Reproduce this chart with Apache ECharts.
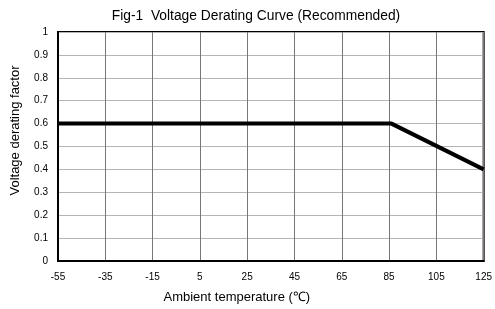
<!DOCTYPE html>
<html>
<head>
<meta charset="utf-8">
<script src="https://cdn.jsdelivr.net/npm/echarts@6/dist/echarts.min.js"></script>
<style>
  html, body { margin: 0; padding: 0; background: #fff; }
  #chart { width: 495px; height: 309px; }
</style>
</head>
<body>
<div id="chart"></div>
<script>
// derating curve points (temperature in C, factor)
var temps = [-55, 86, 125];
var factors = [0.6, 0.6, 0.4];
var titleText = 'Fig-1  Voltage Derating Curve (Recommended)';
var xName = 'Ambient temperature (\u2103)';
var yName = 'Voltage derating factor';

var font = '"Liberation Sans", Arial, sans-serif';
var chart = echarts.init(document.getElementById('chart'));

chart.setOption({
    animation: false,
    title: {
        text: titleText,
        left: 251,
        top: 4,
        textAlign: 'center',
        textStyle: { fontFamily: font, fontSize: 13.8, fontWeight: 'normal', color: '#000' }
    },
    grid: { left: 58, right: 8, top: 32, bottom: 46, show: true, borderColor: '#000', borderWidth: 2, backgroundColor: 'transparent' },
    xAxis: {
        type: 'value',
        min: -55, max: 125, interval: 20,
        name: xName,
        nameLocation: 'middle',
        nameGap: 30,
        nameTextStyle: { fontFamily: font, fontSize: 13, color: '#000', padding: [0, 68, 0, 0] },
        axisLine: { show: true, onZero: false, lineStyle: { color: '#000', width: 2 } },
        axisTick: { show: false },
        axisLabel: { fontFamily: font, fontSize: 10, color: '#000', margin: 11 },
        splitLine: { show: true, lineStyle: { color: '#777', width: 1 } }
    },
    yAxis: {
        type: 'value',
        min: 0, max: 1, interval: 0.1,
        name: yName,
        nameLocation: 'middle',
        nameGap: 36,
        nameTextStyle: { fontFamily: font, fontSize: 13, color: '#000', padding: [0, 0, 0, 32] },
        axisLine: { show: true, onZero: false, lineStyle: { color: '#000', width: 2 } },
        axisTick: { show: false },
        axisLabel: { fontFamily: font, fontSize: 10, color: '#000', margin: 10,
            formatter: function (v) { return String(Math.round(v * 10) / 10); } },
        splitLine: { show: true, lineStyle: { color: '#b4b4b4', width: 1 } }
    },
    series: [{
        type: 'line',
        data: temps.map(function (t, i) { return [t, factors[i]]; }),
        symbol: 'none',
        lineStyle: { color: '#000', width: 4, join: 'miter' }
    }]
});
</script>
</body>
</html>
